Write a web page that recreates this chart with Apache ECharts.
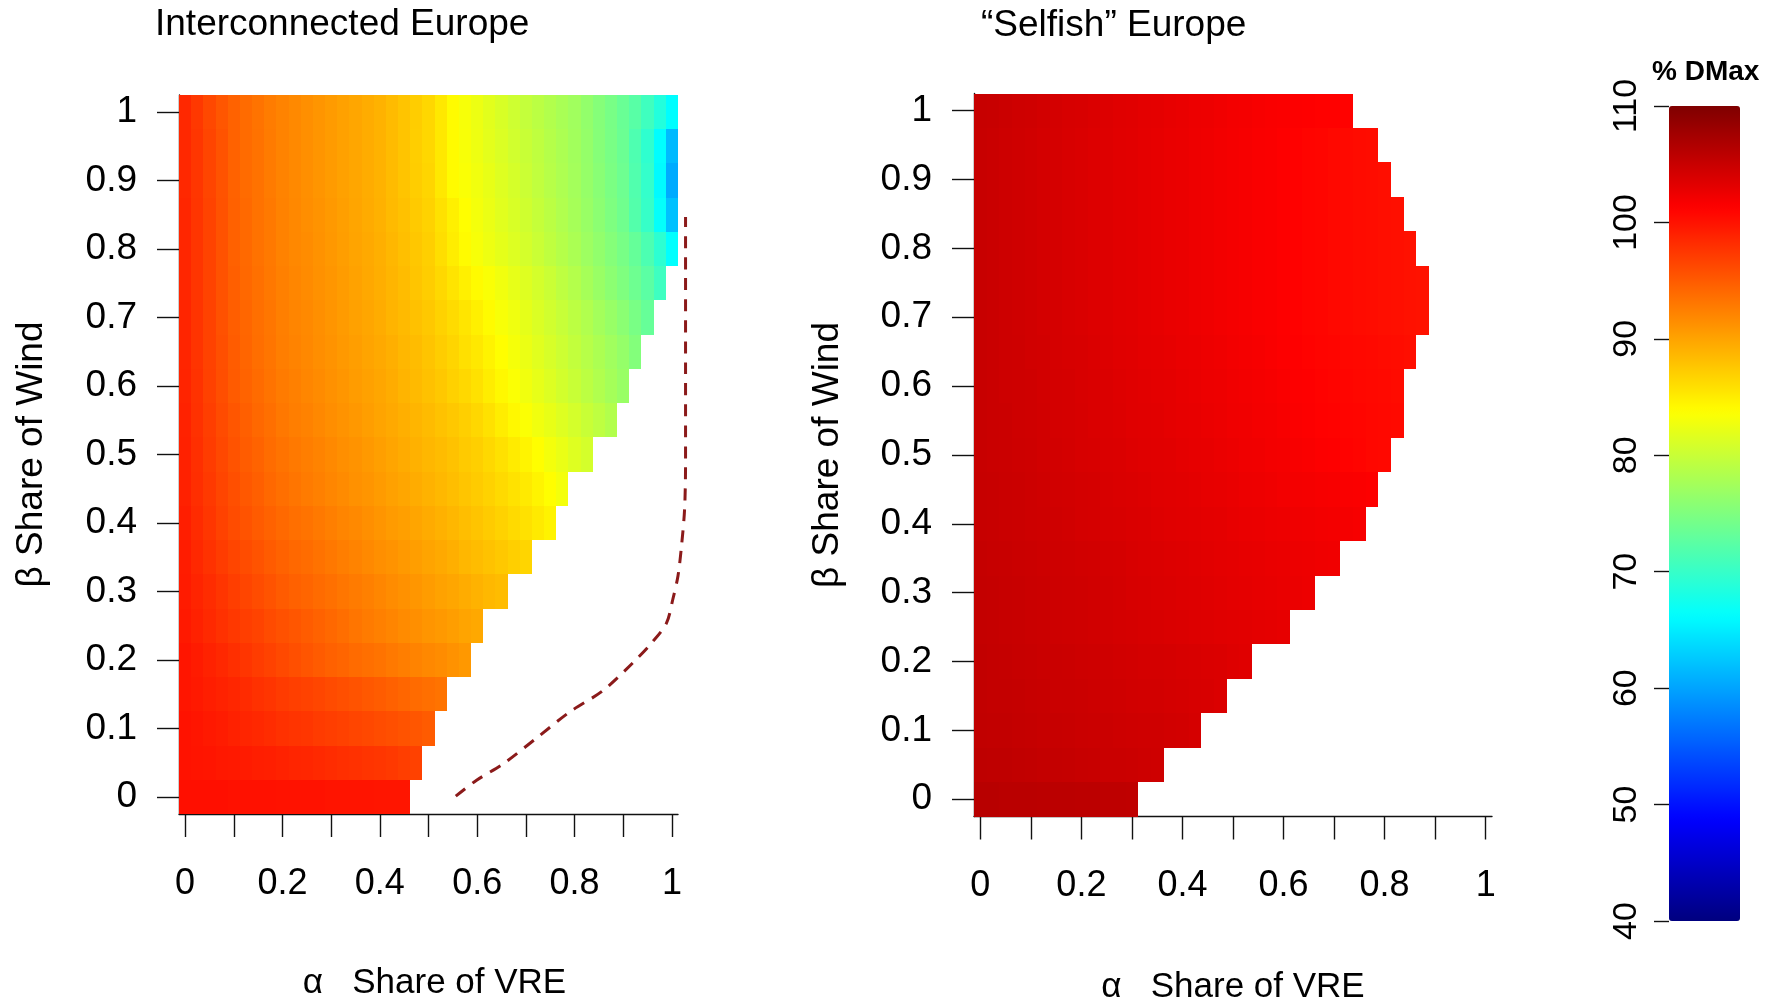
<!DOCTYPE html>
<html>
<head>
<meta charset="utf-8">
<title>Interconnected vs Selfish Europe</title>
<script src="https://cdn.jsdelivr.net/npm/echarts@6/dist/echarts.min.js"></script>
<style>
  html, body { margin: 0; padding: 0; background: #fff; }
  #chart { width: 1777px; height: 1003px; }
</style>
</head>
<body>
<div id="chart"></div>
<script>
// grid of the two maps: alpha = share of VRE (columns), beta = share of wind (rows)
var alphaValues = [0, 0.025, 0.05, 0.075, 0.1, 0.125, 0.15, 0.175, 0.2, 0.225, 0.25, 0.275, 0.3, 0.325, 0.35, 0.375,
  0.4, 0.425, 0.45, 0.475, 0.5, 0.525, 0.55, 0.575, 0.6, 0.625, 0.65, 0.675, 0.7, 0.725, 0.75, 0.775,
  0.8, 0.825, 0.85, 0.875, 0.9, 0.925, 0.95, 0.975, 1];
var betaValues = [0, 0.05, 0.1, 0.15, 0.2, 0.25, 0.3, 0.35, 0.4, 0.45, 0.5, 0.55, 0.6, 0.65, 0.7, 0.75, 0.8, 0.85, 0.9, 0.95, 1];

// % DMax, one row per beta (bottom row first)
var interconnected = [
  [100.2,100.2,100.2,100.2,100.1,100.1,100.1,100.1,100.0,100.0,100.0,100.0,99.9,99.9,99.9,99.9,99.8,99.8,99.8],
  [100.0,99.9,99.8,99.6,99.5,99.4,99.2,99.1,98.9,98.7,98.6,98.4,98.2,98.0,97.9,97.7,97.5,97.3,97.0,96.8],
  [100.0,99.8,99.5,99.3,99.0,98.7,98.5,98.2,97.9,97.7,97.5,97.2,97.0,96.8,96.5,96.3,96.0,95.8,95.5,95.3,95.0],
  [99.8,99.5,99.2,98.9,98.6,98.3,97.9,97.6,97.2,96.9,96.7,96.4,96.1,95.8,95.5,95.2,94.9,94.6,94.2,93.9,93.6,93.3],
  [99.8,99.4,98.9,98.5,98.0,97.6,97.1,96.7,96.2,95.8,95.4,95.0,94.6,94.3,93.9,93.6,93.3,92.9,92.6,92.2,91.9,91.6,91.2,90.8],
  [99.5,99.0,98.4,97.9,97.4,97.0,96.6,96.1,95.7,95.3,94.9,94.5,94.1,93.7,93.2,92.8,92.4,92.1,91.7,91.4,91.0,90.7,90.4,90.0,89.7],
  [99.4,98.8,98.2,97.6,97.0,96.5,96.0,95.5,95.0,94.6,94.3,93.9,93.5,93.1,92.8,92.4,92.0,91.6,91.3,90.9,90.5,90.1,89.8,89.4,89.0,88.6,88.3],
  [99.3,98.5,97.8,97.1,96.5,96.0,95.5,95.0,94.5,94.1,93.8,93.4,93.0,92.6,92.2,91.8,91.4,91.1,90.7,90.4,90.0,89.6,89.2,88.7,88.3,87.9,87.5,87.0,86.6],
  [99.2,98.3,97.5,96.7,96.0,95.5,95.0,94.5,94.0,93.6,93.3,92.9,92.5,92.1,91.8,91.4,91.0,90.6,90.3,89.9,89.5,89.1,88.7,88.2,87.8,87.3,86.8,86.3,85.8,85.2,84.6],
  [99.0,98.1,97.3,96.5,95.8,95.2,94.7,94.1,93.6,93.2,92.8,92.4,92.0,91.7,91.3,91.0,90.6,90.2,89.8,89.4,89.0,88.6,88.2,87.7,87.3,86.8,86.3,85.7,85.2,84.5,83.8,83.0],
  [99.0,98.0,97.1,96.3,95.5,94.9,94.4,93.8,93.3,92.9,92.6,92.2,91.8,91.4,91.1,90.7,90.3,89.9,89.5,89.1,88.7,88.3,87.9,87.4,87.0,86.4,85.8,85.1,84.5,83.8,83.0,82.3,81.5,80.8],
  [98.9,97.9,97.0,96.1,95.3,94.7,94.1,93.6,93.0,92.6,92.3,91.9,91.5,91.1,90.8,90.4,90.0,89.6,89.2,88.8,88.4,87.9,87.5,87.0,86.5,85.8,85.0,84.2,83.5,82.8,82.2,81.5,80.8,80.0,79.3,78.5],
  [98.8,97.8,96.8,95.9,95.0,94.4,93.9,93.3,92.8,92.4,92.0,91.7,91.3,90.9,90.5,90.2,89.8,89.4,88.9,88.5,88.0,87.5,86.9,86.4,85.8,85.0,84.2,83.5,82.8,82.1,81.4,80.7,80.0,79.2,78.4,77.6,76.8],
  [98.7,97.7,96.7,95.8,94.9,94.3,93.7,93.2,92.6,92.2,91.9,91.5,91.1,90.7,90.4,90.0,89.6,89.2,88.7,88.3,87.8,87.2,86.6,85.9,85.3,84.6,83.8,83.1,82.4,81.7,81.0,80.3,79.6,78.8,78.1,77.3,76.5,75.3],
  [98.7,97.7,96.7,95.7,94.8,94.2,93.6,93.1,92.5,92.1,91.8,91.4,91.0,90.6,90.2,89.8,89.4,88.9,88.5,88.0,87.5,86.8,86.2,85.5,84.8,84.0,83.3,82.7,82.0,81.3,80.6,79.9,79.2,78.4,77.5,76.7,75.8,74.6,73.3],
  [98.6,97.6,96.6,95.6,94.7,94.1,93.5,93.0,92.4,92.0,91.7,91.3,90.9,90.5,90.1,89.7,89.3,88.8,88.3,87.7,87.2,86.4,85.6,84.8,84.0,83.4,82.8,82.1,81.5,80.8,80.1,79.3,78.6,77.7,76.8,75.9,75.0,73.8,72.5,70.5],
  [98.6,97.6,96.6,95.6,94.6,94.0,93.4,92.9,92.3,91.9,91.6,91.2,90.8,90.4,90.0,89.6,89.2,88.7,88.1,87.6,87.0,86.0,85.0,84.0,83.2,82.6,82.0,81.4,80.8,80.1,79.4,78.7,78.0,77.1,76.3,75.4,74.5,73.2,71.5,69.3,66.3],
  [98.6,97.6,96.6,95.6,94.6,94.0,93.4,92.9,92.3,91.9,91.5,91.1,90.7,90.3,89.9,89.5,89.1,88.5,88.0,87.4,86.8,85.8,84.8,83.8,83.0,82.4,81.7,81.1,80.5,79.8,79.1,78.4,77.7,76.8,75.9,74.9,74.0,72.0,70.0,66.5,62.0],
  [98.5,97.5,96.5,95.5,94.5,93.9,93.4,92.8,92.2,91.8,91.4,91.0,90.6,90.2,89.8,89.4,89.0,88.4,87.8,87.2,86.6,85.3,84.0,83.4,82.8,82.2,81.5,80.9,80.2,79.5,78.8,78.2,77.5,76.6,75.7,74.7,73.8,71.8,69.8,66.0,60.5],
  [98.5,97.5,96.5,95.5,94.5,93.9,93.4,92.8,92.2,91.8,91.4,91.0,90.6,90.2,89.8,89.4,89.0,88.4,87.8,87.1,86.5,85.3,84.0,83.3,82.6,81.9,81.3,80.6,80.0,79.4,78.7,78.1,77.4,76.5,75.5,74.6,73.6,71.6,69.5,66.2,61.5],
  [98.5,97.4,96.3,95.3,94.5,93.9,93.3,92.7,92.2,91.8,91.4,91.0,90.6,90.2,89.8,89.4,89.0,88.4,87.8,87.2,86.5,85.3,84.0,83.2,82.5,81.8,81.1,80.4,79.7,79.1,78.5,77.9,77.3,76.4,75.4,74.5,73.5,72.3,70.6,68.6,66.2]
];

// % DMax, one row per beta (bottom row first)
var selfish = [
  [106.1,106.1,106.0,106.0,106.0,105.9,105.9,105.9,105.8,105.8,105.7,105.7,105.6],
  [105.7,105.6,105.6,105.5,105.4,105.3,105.3,105.2,105.1,105.0,104.9,104.9,104.8,104.7,104.6],
  [105.5,105.4,105.4,105.3,105.2,105.1,105.1,105.0,104.9,104.8,104.8,104.7,104.6,104.5,104.5,104.4,104.3,104.1],
  [105.4,105.3,105.3,105.2,105.1,105.0,104.9,104.9,104.8,104.7,104.6,104.5,104.4,104.3,104.3,104.2,104.1,104.0,103.9,103.7],
  [105.4,105.3,105.2,105.1,105.0,104.9,104.9,104.8,104.7,104.6,104.5,104.4,104.3,104.2,104.2,104.1,104.0,103.9,103.8,103.7,103.5,103.4],
  [105.3,105.2,105.1,105.0,104.9,104.8,104.7,104.6,104.5,104.4,104.3,104.2,104.1,104.0,103.9,103.8,103.7,103.6,103.5,103.4,103.3,103.2,103.1,103.0,102.9],
  [105.3,105.2,105.1,105.0,104.9,104.8,104.7,104.6,104.5,104.4,104.3,104.2,104.0,103.9,103.8,103.7,103.6,103.5,103.4,103.2,103.1,103.0,102.9,102.8,102.7,102.6,102.5],
  [105.2,105.1,105.0,104.9,104.8,104.7,104.6,104.5,104.4,104.3,104.2,104.1,103.9,103.8,103.7,103.6,103.5,103.4,103.2,103.1,103.0,102.9,102.8,102.7,102.6,102.5,102.4,102.3,102.2],
  [105.1,105.0,104.9,104.8,104.7,104.6,104.5,104.4,104.2,104.1,104.0,103.9,103.8,103.7,103.5,103.4,103.3,103.2,103.1,103.0,102.8,102.7,102.6,102.5,102.4,102.3,102.2,102.1,102.0,101.9,101.8],
  [105.1,105.0,104.9,104.8,104.7,104.5,104.4,104.3,104.2,104.1,103.9,103.8,103.7,103.6,103.4,103.3,103.2,103.1,102.9,102.8,102.7,102.5,102.4,102.3,102.1,102.0,101.9,101.8,101.7,101.6,101.5,101.4],
  [105.0,104.9,104.8,104.7,104.6,104.4,104.3,104.2,104.0,103.9,103.8,103.7,103.5,103.4,103.3,103.2,103.0,102.9,102.8,102.6,102.5,102.3,102.2,102.0,101.9,101.7,101.6,101.4,101.3,101.1,101.0,100.8,100.7],
  [105.0,104.9,104.8,104.6,104.5,104.4,104.2,104.1,104.0,103.8,103.7,103.6,103.4,103.3,103.2,103.0,102.9,102.8,102.6,102.5,102.3,102.2,102.0,101.9,101.7,101.5,101.4,101.2,101.1,101.0,100.9,100.8,100.7,100.6],
  [105.0,104.9,104.7,104.6,104.5,104.3,104.2,104.1,103.9,103.8,103.7,103.5,103.4,103.2,103.1,103.0,102.8,102.7,102.5,102.4,102.2,102.1,101.9,101.8,101.6,101.4,101.3,101.1,101.0,100.9,100.8,100.7,100.6,100.5],
  [105.0,104.9,104.7,104.6,104.4,104.3,104.1,104.0,103.9,103.7,103.6,103.4,103.3,103.1,103.0,102.9,102.7,102.6,102.4,102.3,102.1,101.9,101.8,101.6,101.4,101.3,101.1,101.0,100.9,100.8,100.7,100.6,100.5,100.4,100.3],
  [105.0,104.9,104.7,104.5,104.4,104.2,104.1,103.9,103.8,103.6,103.5,103.3,103.2,103.0,102.9,102.7,102.6,102.4,102.3,102.1,101.9,101.8,101.6,101.5,101.3,101.2,101.0,100.9,100.7,100.6,100.5,100.4,100.3,100.2,100.1,100.0],
  [105.0,104.9,104.7,104.5,104.4,104.2,104.1,103.9,103.8,103.6,103.5,103.3,103.2,103.0,102.9,102.7,102.6,102.4,102.3,102.1,101.9,101.8,101.6,101.5,101.3,101.2,101.0,100.9,100.7,100.6,100.5,100.4,100.3,100.2,100.1,100.0],
  [105.0,104.9,104.7,104.5,104.4,104.2,104.1,103.9,103.8,103.6,103.5,103.3,103.2,103.0,102.9,102.7,102.6,102.4,102.3,102.1,101.9,101.8,101.6,101.5,101.3,101.2,101.0,100.9,100.7,100.6,100.5,100.4,100.3,100.2,100.1],
  [105.0,104.9,104.7,104.5,104.4,104.2,104.1,103.9,103.8,103.6,103.5,103.3,103.2,103.0,102.9,102.7,102.6,102.4,102.3,102.1,101.9,101.8,101.6,101.5,101.3,101.2,101.0,100.9,100.7,100.6,100.5,100.4,100.3,100.2],
  [105.0,104.9,104.7,104.5,104.4,104.2,104.1,103.9,103.8,103.6,103.5,103.3,103.2,103.0,102.9,102.7,102.6,102.4,102.3,102.1,101.9,101.8,101.6,101.5,101.3,101.2,101.0,100.9,100.7,100.6,100.5,100.4,100.3],
  [105.0,104.9,104.7,104.5,104.4,104.2,104.1,103.9,103.8,103.6,103.5,103.3,103.2,103.0,102.9,102.7,102.6,102.4,102.3,102.1,101.9,101.8,101.6,101.5,101.3,101.2,101.0,100.9,100.7,100.6,100.5,100.4],
  [105.1,105.0,104.8,104.6,104.5,104.3,104.2,104.0,103.9,103.7,103.6,103.4,103.3,103.1,103.0,102.8,102.7,102.5,102.4,102.2,102.0,101.9,101.7,101.6,101.5,101.4,101.3,101.2,101.2,101.1]
];

// dashed boundary on the left map
var boundaryAlpha = [0.556, 0.598, 0.653, 0.722, 0.790, 0.858, 0.920, 0.961, 0.989, 1.002, 1.0125, 1.0195, 1.026, 1.028, 1.028, 1.028, 1.028];
var boundaryBeta = [0.001, 0.024, 0.048, 0.086, 0.124, 0.155, 0.196, 0.227, 0.254, 0.289, 0.323, 0.365, 0.42, 0.489, 0.627, 0.764, 0.847];

// ticks and labels
var xTicks = [0, 0.1, 0.2, 0.3, 0.4, 0.5, 0.6, 0.7, 0.8, 0.9, 1];
var xLabels = [0, 0.2, 0.4, 0.6, 0.8, 1];
var yTicks = [0, 0.1, 0.2, 0.3, 0.4, 0.5, 0.6, 0.7, 0.8, 0.9, 1];
var scaleTicks = [40, 50, 60, 70, 80, 90, 100, 110];

// R style jet palette, 40 -> 110
var jetColors = ['#00007F', '#0000FF', '#007FFF', '#00FFFF', '#7FFF7F', '#FFFF00', '#FF7F00', '#FF0000', '#7F0000'];

var FONT = '"Liberation Sans", Arial, sans-serif';
var INK = '#111';
var ALPHA_HALF = 0.0125;
var BETA_HALF = 0.025;

function buildCells(rows) {
  var out = [];
  for (var j = 0; j < rows.length; j++) {
    for (var i = 0; i < rows[j].length; i++) {
      out.push([alphaValues[i], betaValues[j], rows[j][i]]);
    }
  }
  return out;
}

function renderCell(params, api) {
  var a = api.value(0), b = api.value(1);
  var p0 = api.coord([a - ALPHA_HALF, b + BETA_HALF]);
  var p1 = api.coord([a + ALPHA_HALF, b - BETA_HALF]);
  var x0 = Math.round(p0[0]), x1 = Math.round(p1[0]);
  var y0 = Math.round(p0[1]), y1 = Math.round(p1[1]);
  return {
    type: 'rect',
    shape: { x: x0, y: y0, width: x1 - x0, height: y1 - y0 },
    style: { fill: api.visual('color') }
  };
}

function fmt(v) { return String(+(+v).toFixed(2)); }

function xAxisFor(gridIndex, labelMargin, nameGap, namePad) {
  return {
    type: 'value', gridIndex: gridIndex, min: -0.0125, max: 1.0125,
    axisLine: { show: true, onZero: false, lineStyle: { color: INK, width: 1.4 } },
    axisTick: { show: true, customValues: xTicks, length: 23, lineStyle: { color: INK, width: 1.4 } },
    axisLabel: { customValues: xLabels, formatter: fmt, margin: labelMargin, fontSize: 36, color: '#000', fontFamily: FONT },
    splitLine: { show: false },
    name: 'α   Share of VRE', nameLocation: 'middle', nameGap: nameGap,
    nameTextStyle: { fontSize: 35, color: '#000', fontFamily: FONT, padding: [0, 0, 0, namePad] }
  };
}

function yAxisFor(gridIndex, nameGap) {
  return {
    type: 'value', gridIndex: gridIndex, min: -0.025, max: 1.025,
    axisLine: { show: true, onZero: false, lineStyle: { color: INK, width: 1.4 } },
    axisTick: { show: true, customValues: yTicks, length: 22, lineStyle: { color: INK, width: 1.4 } },
    axisLabel: { customValues: yTicks, formatter: fmt, margin: 42, fontSize: 37, color: '#000', fontFamily: FONT, padding: [8, 0, 0, 0] },
    splitLine: { show: false },
    name: 'β Share of Wind', nameLocation: 'middle', nameGap: nameGap, nameRotate: 90,
    nameTextStyle: { fontSize: 37, color: '#000', fontFamily: FONT }
  };
}

function gridAt(left, top, width, height) {
  return { left: left, top: top, width: width, height: height, outerBoundsMode: 'none', containLabel: false };
}

var chart = echarts.init(document.getElementById('chart'));

var option = {
  backgroundColor: '#fff',
  animation: false,
  title: [
    { text: 'Interconnected Europe', left: 155, top: 6.5, padding: 0,
      textStyle: { fontSize: 37, fontWeight: 'normal', color: '#000', fontFamily: FONT } },
    { text: '\u201CSelfish\u201D Europe', left: 981, top: 7, padding: 0,
      textStyle: { fontSize: 37, fontWeight: 'normal', color: '#000', fontFamily: FONT } },
    { text: '% DMax', left: 1652, top: 58, padding: 0,
      textStyle: { fontSize: 28, fontWeight: 'bold', color: '#000', fontFamily: FONT } }
  ],
  grid: [
    gridAt(179, 95, 499, 719),
    gridAt(974, 93.5, 518, 723),
    gridAt(1669, 106, 71, 815),
    // same scale as the left map, only wider so the boundary can run past alpha = 1
    gridAt(179, 95, 540, 719)
  ],
  xAxis: [
    xAxisFor(0, 52, 152, 12),
    xAxisFor(1, 52, 153, 0),
    { type: 'value', gridIndex: 2, show: false, min: 0, max: 1 },
    { type: 'value', gridIndex: 3, show: false, min: -0.0125, max: 1.0967 }
  ],
  yAxis: [
    yAxisFor(0, 129),
    yAxisFor(1, 128),
    {
      type: 'value', gridIndex: 2, min: 40, max: 110, interval: 10, position: 'left',
      axisLine: { show: false },
      axisTick: { show: true, customValues: scaleTicks, length: 15, lineStyle: { color: INK, width: 1.4 } },
      axisLabel: { customValues: scaleTicks, rotate: 90, margin: 25, fontSize: 34, color: '#000', fontFamily: FONT },
      splitLine: { show: false }
    },
    { type: 'value', gridIndex: 3, show: false, min: -0.025, max: 1.025 }
  ],
  visualMap: {
    type: 'continuous', min: 40, max: 110, dimension: 2, seriesIndex: [0, 1],
    inRange: { color: jetColors },
    orient: 'vertical', calculable: false, hoverLink: false,
    left: 1669, top: 106, itemWidth: 71, itemHeight: 815, padding: 0
  },
  series: [
    {
      name: 'Interconnected Europe', type: 'custom', xAxisIndex: 0, yAxisIndex: 0,
      dimensions: ['alpha', 'beta', 'dmax'], encode: { x: 0, y: 1 },
      renderItem: renderCell, data: buildCells(interconnected), silent: true
    },
    {
      name: 'Selfish Europe', type: 'custom', xAxisIndex: 1, yAxisIndex: 1,
      dimensions: ['alpha', 'beta', 'dmax'], encode: { x: 0, y: 1 },
      renderItem: renderCell, data: buildCells(selfish), silent: true
    },
    {
      name: 'boundary', type: 'line', xAxisIndex: 3, yAxisIndex: 3,
      data: boundaryAlpha.map(function (a, k) { return [a, boundaryBeta[k]]; }),
      symbol: 'none', smooth: 0.3, clip: false, silent: true, z: 5,
      lineStyle: { color: '#8B1A1A', width: 3, type: [12, 9] }
    }
  ]
};

chart.setOption(option);
</script>
</body>
</html>
